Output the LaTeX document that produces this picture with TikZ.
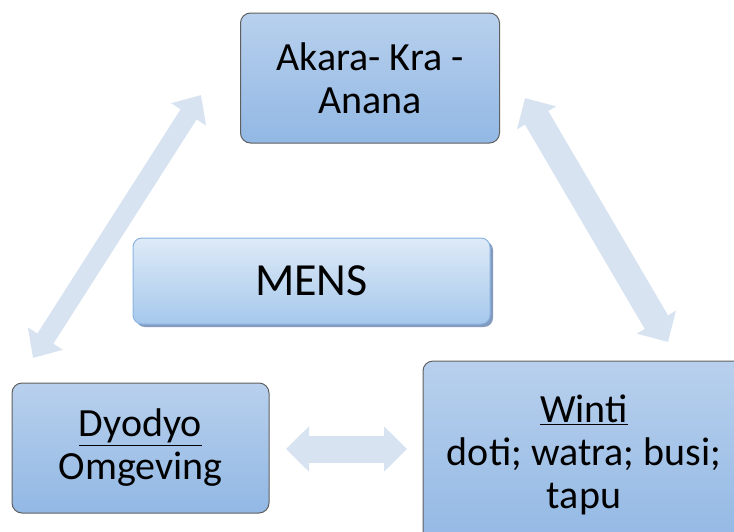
\documentclass[tikz,border=0pt]{standalone}
\usepackage{fontspec}
\setmainfont{Carlito}
\usetikzlibrary{arrows.meta}
\definecolor{boxtop}{RGB}{184,208,237}
\definecolor{boxbot}{RGB}{146,184,228}
\definecolor{boxline}{RGB}{95,95,95}
\definecolor{arrowcol}{RGB}{216,227,242}
\definecolor{menstop}{RGB}{222,234,247}
\definecolor{mensmid}{RGB}{230,238,248}
\definecolor{mensbot}{RGB}{166,200,236}
\definecolor{mensline}{RGB}{140,180,225}
\definecolor{mensshadow}{RGB}{130,155,190}
\begin{document}
\begin{tikzpicture}[x=1pt,y=-1pt]
\useasboundingbox (0,0) rectangle (734,531);
\tikzset{
  bluebox/.style={draw=boxline, line width=1pt, rounded corners=10pt,
    top color=boxtop, bottom color=boxbot, align=center, text=black,
    inner sep=0pt, font=\fontsize{40}{43}\selectfont},
  bigarrow/.style={draw=arrowcol, line width=27pt,
    {Triangle[width=44pt,length=23pt]}-{Triangle[width=44pt,length=23pt]}},
  thinarrow/.style={draw=arrowcol, line width=19pt,
    {Triangle[width=40pt,length=23pt]}-{Triangle[width=40pt,length=23pt]}},
  mensbox/.style={draw=mensline, line width=1pt, rounded corners=9pt,
    top color=menstop, middle color=mensmid, bottom color=mensbot,
    align=center, text=black, inner sep=0pt, font=\fontsize{46}{50}\selectfont},
  shadowbox/.style={fill=mensshadow, rounded corners=9pt, inner sep=0pt}
}
% arrow end points
\coordinate (l1) at (33,358);
\coordinate (l2) at (201,95);
\coordinate (r1) at (525,98);
\coordinate (r2) at (668,342);
\coordinate (h1) at (286,449);
\coordinate (h2) at (407,449);
\draw[thinarrow] (l1) -- (l2);
\draw[bigarrow] (r1) -- (r2);
\draw[bigarrow] (h1) -- (h2);
% boxes
\node[bluebox, minimum width=259pt, minimum height=130pt] (akara) at (370,78) {Akara- Kra -\\Anana};
\node[bluebox, minimum width=257pt, minimum height=130pt] (dyodyo) at (140.5,448) {\underline{Dyodyo}\\Omgeving};
\node[bluebox, minimum width=322pt, minimum height=188pt] (winti) at (584,455) {\underline{Winti}\\doti; watra; busi;\\tapu};
\node[shadowbox, minimum width=357pt, minimum height=86pt] (mensshadow) at (314.5,284) {};
\node[mensbox, minimum width=357pt, minimum height=86pt] (mens) at (311.5,281) {MENS};
\end{tikzpicture}
\end{document}
